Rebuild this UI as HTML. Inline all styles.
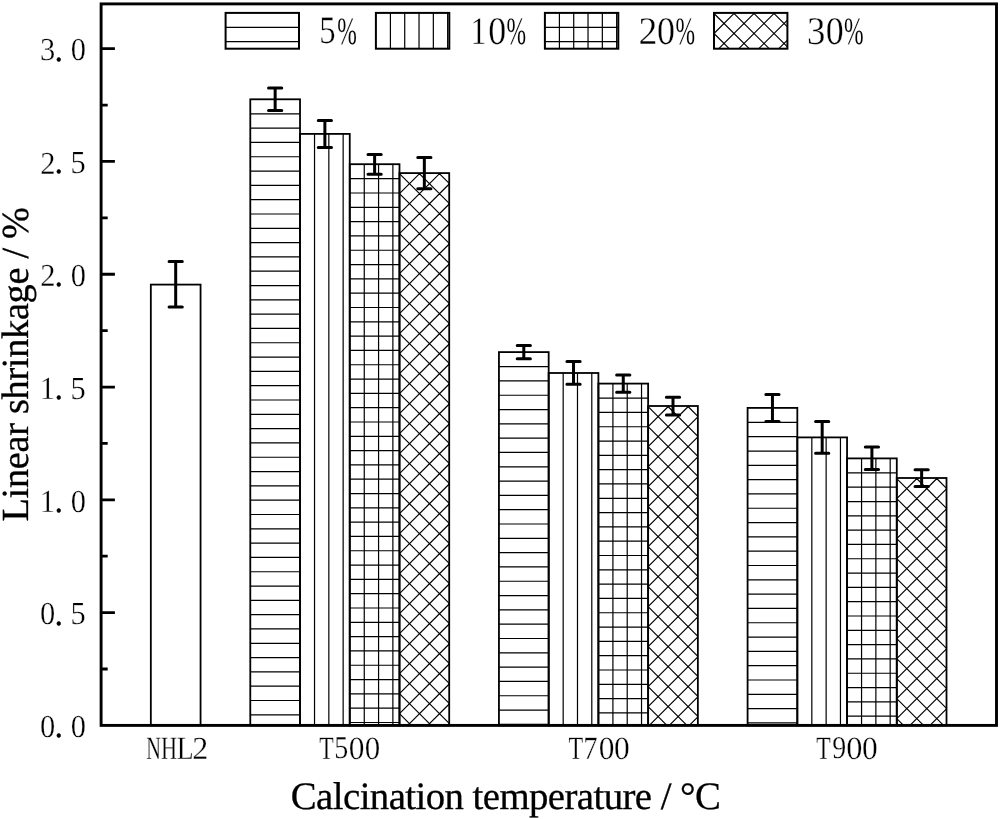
<!DOCTYPE html>
<html><head><meta charset="utf-8"><style>
html,body{margin:0;padding:0;background:#fff;}
body{width:1000px;height:819px;overflow:hidden;}
svg{display:block;}
text{text-rendering:geometricPrecision;}
svg{will-change:transform;}
</style></head><body>
<svg width="1000" height="819" viewBox="0 0 1000 819">
<rect width="1000" height="819" fill="#fff"/>
<rect x="150.83" y="284.60" width="49.73" height="440.80" fill="none" stroke="#000" stroke-width="1.8"/>
<path d="M250.29 113.81L300.02 113.81M250.29 128.12L300.02 128.12M250.29 142.43L300.02 142.43M250.29 156.74L300.02 156.74M250.29 171.05L300.02 171.05M250.29 185.36L300.02 185.36M250.29 199.67L300.02 199.67M250.29 213.98L300.02 213.98M250.29 228.29L300.02 228.29M250.29 242.60L300.02 242.60M250.29 256.91L300.02 256.91M250.29 271.22L300.02 271.22M250.29 285.53L300.02 285.53M250.29 299.84L300.02 299.84M250.29 314.15L300.02 314.15M250.29 328.46L300.02 328.46M250.29 342.77L300.02 342.77M250.29 357.08L300.02 357.08M250.29 371.39L300.02 371.39M250.29 385.70L300.02 385.70M250.29 400.01L300.02 400.01M250.29 414.32L300.02 414.32M250.29 428.63L300.02 428.63M250.29 442.94L300.02 442.94M250.29 457.25L300.02 457.25M250.29 471.56L300.02 471.56M250.29 485.87L300.02 485.87M250.29 500.18L300.02 500.18M250.29 514.49L300.02 514.49M250.29 528.80L300.02 528.80M250.29 543.11L300.02 543.11M250.29 557.42L300.02 557.42M250.29 571.73L300.02 571.73M250.29 586.04L300.02 586.04M250.29 600.35L300.02 600.35M250.29 614.66L300.02 614.66M250.29 628.97L300.02 628.97M250.29 643.28L300.02 643.28M250.29 657.59L300.02 657.59M250.29 671.90L300.02 671.90M250.29 686.21L300.02 686.21M250.29 700.52L300.02 700.52M250.29 714.83L300.02 714.83" stroke="#000" stroke-width="1.2" fill="none"/><rect x="250.29" y="99.30" width="49.73" height="626.10" fill="none" stroke="#000" stroke-width="1.8"/>
<path d="M314.53 133.90L314.53 725.40M328.84 133.90L328.84 725.40M343.15 133.90L343.15 725.40" stroke="#000" stroke-width="1.2" fill="none"/><rect x="300.02" y="133.90" width="49.73" height="591.50" fill="none" stroke="#000" stroke-width="1.8"/>
<path d="M349.75 178.71L399.48 178.71M349.75 193.02L399.48 193.02M349.75 207.33L399.48 207.33M349.75 221.64L399.48 221.64M349.75 235.95L399.48 235.95M349.75 250.26L399.48 250.26M349.75 264.57L399.48 264.57M349.75 278.88L399.48 278.88M349.75 293.19L399.48 293.19M349.75 307.50L399.48 307.50M349.75 321.81L399.48 321.81M349.75 336.12L399.48 336.12M349.75 350.43L399.48 350.43M349.75 364.74L399.48 364.74M349.75 379.05L399.48 379.05M349.75 393.36L399.48 393.36M349.75 407.67L399.48 407.67M349.75 421.98L399.48 421.98M349.75 436.29L399.48 436.29M349.75 450.60L399.48 450.60M349.75 464.91L399.48 464.91M349.75 479.22L399.48 479.22M349.75 493.53L399.48 493.53M349.75 507.84L399.48 507.84M349.75 522.15L399.48 522.15M349.75 536.46L399.48 536.46M349.75 550.77L399.48 550.77M349.75 565.08L399.48 565.08M349.75 579.39L399.48 579.39M349.75 593.70L399.48 593.70M349.75 608.01L399.48 608.01M349.75 622.32L399.48 622.32M349.75 636.63L399.48 636.63M349.75 650.94L399.48 650.94M349.75 665.25L399.48 665.25M349.75 679.56L399.48 679.56M349.75 693.87L399.48 693.87M349.75 708.18L399.48 708.18M349.75 722.49L399.48 722.49M364.26 164.20L364.26 725.40M378.57 164.20L378.57 725.40M392.88 164.20L392.88 725.40" stroke="#000" stroke-width="1.2" fill="none"/><rect x="349.75" y="164.20" width="49.73" height="561.20" fill="none" stroke="#000" stroke-width="1.8"/>
<path d="M399.48 713.70L411.18 725.40M399.48 693.70L431.18 725.40M399.48 673.70L449.21 723.43M399.48 653.70L449.21 703.43M399.48 633.70L449.21 683.43M399.48 613.70L449.21 663.43M399.48 593.70L449.21 643.43M399.48 573.70L449.21 623.43M399.48 553.70L449.21 603.43M399.48 533.70L449.21 583.43M399.48 513.70L449.21 563.43M399.48 493.70L449.21 543.43M399.48 473.70L449.21 523.43M399.48 453.70L449.21 503.43M399.48 433.70L449.21 483.43M399.48 413.70L449.21 463.43M399.48 393.70L449.21 443.43M399.48 373.70L449.21 423.43M399.48 353.70L449.21 403.43M399.48 333.70L449.21 383.43M399.48 313.70L449.21 363.43M399.48 293.70L449.21 343.43M399.48 273.70L449.21 323.43M399.48 253.70L449.21 303.43M399.48 233.70L449.21 283.43M399.48 213.70L449.21 263.43M399.48 193.70L449.21 243.43M399.48 173.70L449.21 223.43M418.88 173.10L449.21 203.43M438.88 173.10L449.21 183.43M400.08 173.10L399.48 173.70M420.08 173.10L399.48 193.70M440.08 173.10L399.48 213.70M449.21 183.97L399.48 233.70M449.21 203.97L399.48 253.70M449.21 223.97L399.48 273.70M449.21 243.97L399.48 293.70M449.21 263.97L399.48 313.70M449.21 283.97L399.48 333.70M449.21 303.97L399.48 353.70M449.21 323.97L399.48 373.70M449.21 343.97L399.48 393.70M449.21 363.97L399.48 413.70M449.21 383.97L399.48 433.70M449.21 403.97L399.48 453.70M449.21 423.97L399.48 473.70M449.21 443.97L399.48 493.70M449.21 463.97L399.48 513.70M449.21 483.97L399.48 533.70M449.21 503.97L399.48 553.70M449.21 523.97L399.48 573.70M449.21 543.97L399.48 593.70M449.21 563.97L399.48 613.70M449.21 583.97L399.48 633.70M449.21 603.97L399.48 653.70M449.21 623.97L399.48 673.70M449.21 643.97L399.48 693.70M449.21 663.97L399.48 713.70M449.21 683.97L407.78 725.40M449.21 703.97L427.78 725.40M449.21 723.97L447.78 725.40" stroke="#000" stroke-width="1.2" fill="none"/><rect x="399.48" y="173.10" width="49.73" height="552.30" fill="none" stroke="#000" stroke-width="1.8"/>
<path d="M498.94 366.61L548.67 366.61M498.94 380.92L548.67 380.92M498.94 395.23L548.67 395.23M498.94 409.54L548.67 409.54M498.94 423.85L548.67 423.85M498.94 438.16L548.67 438.16M498.94 452.47L548.67 452.47M498.94 466.78L548.67 466.78M498.94 481.09L548.67 481.09M498.94 495.40L548.67 495.40M498.94 509.71L548.67 509.71M498.94 524.02L548.67 524.02M498.94 538.33L548.67 538.33M498.94 552.64L548.67 552.64M498.94 566.95L548.67 566.95M498.94 581.26L548.67 581.26M498.94 595.57L548.67 595.57M498.94 609.88L548.67 609.88M498.94 624.19L548.67 624.19M498.94 638.50L548.67 638.50M498.94 652.81L548.67 652.81M498.94 667.12L548.67 667.12M498.94 681.43L548.67 681.43M498.94 695.74L548.67 695.74M498.94 710.05L548.67 710.05M498.94 724.36L548.67 724.36" stroke="#000" stroke-width="1.2" fill="none"/><rect x="498.94" y="352.10" width="49.73" height="373.30" fill="none" stroke="#000" stroke-width="1.8"/>
<path d="M563.18 373.00L563.18 725.40M577.49 373.00L577.49 725.40M591.80 373.00L591.80 725.40" stroke="#000" stroke-width="1.2" fill="none"/><rect x="548.67" y="373.00" width="49.73" height="352.40" fill="none" stroke="#000" stroke-width="1.8"/>
<path d="M598.40 398.11L648.13 398.11M598.40 412.42L648.13 412.42M598.40 426.73L648.13 426.73M598.40 441.04L648.13 441.04M598.40 455.35L648.13 455.35M598.40 469.66L648.13 469.66M598.40 483.97L648.13 483.97M598.40 498.28L648.13 498.28M598.40 512.59L648.13 512.59M598.40 526.90L648.13 526.90M598.40 541.21L648.13 541.21M598.40 555.52L648.13 555.52M598.40 569.83L648.13 569.83M598.40 584.14L648.13 584.14M598.40 598.45L648.13 598.45M598.40 612.76L648.13 612.76M598.40 627.07L648.13 627.07M598.40 641.38L648.13 641.38M598.40 655.69L648.13 655.69M598.40 670.00L648.13 670.00M598.40 684.31L648.13 684.31M598.40 698.62L648.13 698.62M598.40 712.93L648.13 712.93M612.91 383.60L612.91 725.40M627.22 383.60L627.22 725.40M641.53 383.60L641.53 725.40" stroke="#000" stroke-width="1.2" fill="none"/><rect x="598.40" y="383.60" width="49.73" height="341.80" fill="none" stroke="#000" stroke-width="1.8"/>
<path d="M648.13 706.60L666.93 725.40M648.13 686.60L686.93 725.40M648.13 666.60L697.86 716.33M648.13 646.60L697.86 696.33M648.13 626.60L697.86 676.33M648.13 606.60L697.86 656.33M648.13 586.60L697.86 636.33M648.13 566.60L697.86 616.33M648.13 546.60L697.86 596.33M648.13 526.60L697.86 576.33M648.13 506.60L697.86 556.33M648.13 486.60L697.86 536.33M648.13 466.60L697.86 516.33M648.13 446.60L697.86 496.33M648.13 426.60L697.86 476.33M648.13 406.60L697.86 456.33M667.53 406.00L697.86 436.33M687.53 406.00L697.86 416.33M648.73 406.00L648.13 406.60M668.73 406.00L648.13 426.60M688.73 406.00L648.13 446.60M697.86 416.87L648.13 466.60M697.86 436.87L648.13 486.60M697.86 456.87L648.13 506.60M697.86 476.87L648.13 526.60M697.86 496.87L648.13 546.60M697.86 516.87L648.13 566.60M697.86 536.87L648.13 586.60M697.86 556.87L648.13 606.60M697.86 576.87L648.13 626.60M697.86 596.87L648.13 646.60M697.86 616.87L648.13 666.60M697.86 636.87L648.13 686.60M697.86 656.87L648.13 706.60M697.86 676.87L649.33 725.40M697.86 696.87L669.33 725.40M697.86 716.87L689.33 725.40" stroke="#000" stroke-width="1.2" fill="none"/><rect x="648.13" y="406.00" width="49.73" height="319.40" fill="none" stroke="#000" stroke-width="1.8"/>
<path d="M747.59 422.41L797.32 422.41M747.59 436.72L797.32 436.72M747.59 451.03L797.32 451.03M747.59 465.34L797.32 465.34M747.59 479.65L797.32 479.65M747.59 493.96L797.32 493.96M747.59 508.27L797.32 508.27M747.59 522.58L797.32 522.58M747.59 536.89L797.32 536.89M747.59 551.20L797.32 551.20M747.59 565.51L797.32 565.51M747.59 579.82L797.32 579.82M747.59 594.13L797.32 594.13M747.59 608.44L797.32 608.44M747.59 622.75L797.32 622.75M747.59 637.06L797.32 637.06M747.59 651.37L797.32 651.37M747.59 665.68L797.32 665.68M747.59 679.99L797.32 679.99M747.59 694.30L797.32 694.30M747.59 708.61L797.32 708.61M747.59 722.92L797.32 722.92" stroke="#000" stroke-width="1.2" fill="none"/><rect x="747.59" y="407.90" width="49.73" height="317.50" fill="none" stroke="#000" stroke-width="1.8"/>
<path d="M811.83 437.40L811.83 725.40M826.14 437.40L826.14 725.40M840.45 437.40L840.45 725.40" stroke="#000" stroke-width="1.2" fill="none"/><rect x="797.32" y="437.40" width="49.73" height="288.00" fill="none" stroke="#000" stroke-width="1.8"/>
<path d="M847.05 472.91L896.78 472.91M847.05 487.22L896.78 487.22M847.05 501.53L896.78 501.53M847.05 515.84L896.78 515.84M847.05 530.15L896.78 530.15M847.05 544.46L896.78 544.46M847.05 558.77L896.78 558.77M847.05 573.08L896.78 573.08M847.05 587.39L896.78 587.39M847.05 601.70L896.78 601.70M847.05 616.01L896.78 616.01M847.05 630.32L896.78 630.32M847.05 644.63L896.78 644.63M847.05 658.94L896.78 658.94M847.05 673.25L896.78 673.25M847.05 687.56L896.78 687.56M847.05 701.87L896.78 701.87M847.05 716.18L896.78 716.18M861.56 458.40L861.56 725.40M875.87 458.40L875.87 725.40M890.18 458.40L890.18 725.40" stroke="#000" stroke-width="1.2" fill="none"/><rect x="847.05" y="458.40" width="49.73" height="267.00" fill="none" stroke="#000" stroke-width="1.8"/>
<path d="M896.78 718.60L903.58 725.40M896.78 698.60L923.58 725.40M896.78 678.60L943.58 725.40M896.78 658.60L946.51 708.33M896.78 638.60L946.51 688.33M896.78 618.60L946.51 668.33M896.78 598.60L946.51 648.33M896.78 578.60L946.51 628.33M896.78 558.60L946.51 608.33M896.78 538.60L946.51 588.33M896.78 518.60L946.51 568.33M896.78 498.60L946.51 548.33M896.78 478.60L946.51 528.33M916.18 478.00L946.51 508.33M936.18 478.00L946.51 488.33M897.38 478.00L896.78 478.60M917.38 478.00L896.78 498.60M937.38 478.00L896.78 518.60M946.51 488.87L896.78 538.60M946.51 508.87L896.78 558.60M946.51 528.87L896.78 578.60M946.51 548.87L896.78 598.60M946.51 568.87L896.78 618.60M946.51 588.87L896.78 638.60M946.51 608.87L896.78 658.60M946.51 628.87L896.78 678.60M946.51 648.87L896.78 698.60M946.51 668.87L896.78 718.60M946.51 688.87L909.98 725.40M946.51 708.87L929.98 725.40" stroke="#000" stroke-width="1.2" fill="none"/><rect x="896.78" y="478.00" width="49.73" height="247.40" fill="none" stroke="#000" stroke-width="1.8"/>
<path d="M175.69 261.60L175.69 306.90M169.09 261.60L182.29 261.60M169.09 306.90L182.29 306.90" stroke="#000" stroke-width="3.0" stroke-linecap="round" fill="none"/>
<path d="M275.15 88.00L275.15 110.60M268.55 88.00L281.75 88.00M268.55 110.60L281.75 110.60" stroke="#000" stroke-width="3.0" stroke-linecap="round" fill="none"/>
<path d="M324.88 120.40L324.88 147.40M318.28 120.40L331.49 120.40M318.28 147.40L331.49 147.40" stroke="#000" stroke-width="3.0" stroke-linecap="round" fill="none"/>
<path d="M374.62 154.60L374.62 174.20M368.01 154.60L381.22 154.60M368.01 174.20L381.22 174.20" stroke="#000" stroke-width="3.0" stroke-linecap="round" fill="none"/>
<path d="M424.34 157.50L424.34 188.80M417.74 157.50L430.94 157.50M417.74 188.80L430.94 188.80" stroke="#000" stroke-width="3.0" stroke-linecap="round" fill="none"/>
<path d="M523.80 345.40L523.80 358.80M517.20 345.40L530.40 345.40M517.20 358.80L530.40 358.80" stroke="#000" stroke-width="3.0" stroke-linecap="round" fill="none"/>
<path d="M573.53 361.60L573.53 384.20M566.93 361.60L580.13 361.60M566.93 384.20L580.13 384.20" stroke="#000" stroke-width="3.0" stroke-linecap="round" fill="none"/>
<path d="M623.26 375.00L623.26 392.20M616.66 375.00L629.87 375.00M616.66 392.20L629.87 392.20" stroke="#000" stroke-width="3.0" stroke-linecap="round" fill="none"/>
<path d="M673.00 397.20L673.00 415.00M666.39 397.20L679.60 397.20M666.39 415.00L679.60 415.00" stroke="#000" stroke-width="3.0" stroke-linecap="round" fill="none"/>
<path d="M772.45 394.40L772.45 421.40M765.85 394.40L779.05 394.40M765.85 421.40L779.05 421.40" stroke="#000" stroke-width="3.0" stroke-linecap="round" fill="none"/>
<path d="M822.18 421.40L822.18 453.20M815.58 421.40L828.78 421.40M815.58 453.20L828.78 453.20" stroke="#000" stroke-width="3.0" stroke-linecap="round" fill="none"/>
<path d="M871.91 447.00L871.91 469.60M865.31 447.00L878.51 447.00M865.31 469.60L878.51 469.60" stroke="#000" stroke-width="3.0" stroke-linecap="round" fill="none"/>
<path d="M921.64 469.80L921.64 486.40M915.04 469.80L928.25 469.80M915.04 486.40L928.25 486.40" stroke="#000" stroke-width="3.0" stroke-linecap="round" fill="none"/>
<path d="M101.10 669.00L107.70 669.00M101.10 612.61L114.90 612.61M101.10 556.21L107.70 556.21M101.10 499.82L114.90 499.82M101.10 443.42L107.70 443.42M101.10 387.03L114.90 387.03M101.10 330.63L107.70 330.63M101.10 274.24L114.90 274.24M101.10 217.84L107.70 217.84M101.10 161.45L114.90 161.45M101.10 105.05L107.70 105.05M101.10 48.66L114.90 48.66" stroke="#000" stroke-width="2.8" fill="none"/>
<rect x="101.10" y="3.90" width="895.40" height="721.50" fill="none" stroke="#000" stroke-width="2.9"/>
<g font-family="Liberation Serif" font-size="100" fill="#000" stroke="#fff" stroke-width="0.9"><text transform="matrix(0.30500 0 0 0.32100 40.12 737.18)">0</text><text transform="matrix(0.32025 0 0 0.33705 54.75 737.29)" stroke="#000" stroke-width="1.5">.</text><text transform="matrix(0.30500 0 0 0.32100 70.78 737.18)">0</text><text transform="matrix(0.30500 0 0 0.32100 40.12 624.39)">0</text><text transform="matrix(0.32025 0 0 0.33705 54.75 624.50)" stroke="#000" stroke-width="1.5">.</text><text transform="matrix(0.30500 0 0 0.32100 70.47 624.39)">5</text><text transform="matrix(0.30500 0 0 0.32100 39.67 511.92)">1</text><text transform="matrix(0.32025 0 0 0.33705 54.75 511.71)" stroke="#000" stroke-width="1.5">.</text><text transform="matrix(0.30500 0 0 0.32100 70.78 511.60)">0</text><text transform="matrix(0.30500 0 0 0.32100 39.67 399.13)">1</text><text transform="matrix(0.32025 0 0 0.33705 54.75 398.92)" stroke="#000" stroke-width="1.5">.</text><text transform="matrix(0.30500 0 0 0.32100 70.47 398.81)">5</text><text transform="matrix(0.30500 0 0 0.32100 40.28 286.34)">2</text><text transform="matrix(0.32025 0 0 0.33705 54.75 286.13)" stroke="#000" stroke-width="1.5">.</text><text transform="matrix(0.30500 0 0 0.32100 70.78 286.02)">0</text><text transform="matrix(0.30500 0 0 0.32100 40.28 173.55)">2</text><text transform="matrix(0.32025 0 0 0.33705 54.75 173.34)" stroke="#000" stroke-width="1.5">.</text><text transform="matrix(0.30500 0 0 0.32100 70.47 173.23)">5</text><text transform="matrix(0.30500 0 0 0.32100 39.97 60.44)">3</text><text transform="matrix(0.32025 0 0 0.33705 54.75 60.55)" stroke="#000" stroke-width="1.5">.</text><text transform="matrix(0.30500 0 0 0.32100 70.78 60.44)">0</text></g>
<g font-family="Liberation Serif" font-size="100" fill="#000" stroke="#fff" stroke-width="0.9"><text transform="matrix(0.20299 0 0 0.32519 146.19 758.80)">N</text><text transform="matrix(0.22256 0 0 0.32519 160.93 758.80)">H</text><text transform="matrix(0.27692 0 0 0.32519 176.77 758.80)">L</text><text transform="matrix(0.32000 0 0 0.32273 192.16 758.80)">2</text><text transform="matrix(0.23652 0 0 0.32519 319.13 758.80)">T</text><text transform="matrix(0.28000 0 0 0.32030 334.32 758.48)">5</text><text transform="matrix(0.31429 0 0 0.32444 348.74 758.78)">0</text><text transform="matrix(0.30952 0 0 0.32444 364.76 758.78)">0</text><text transform="matrix(0.24000 0 0 0.32519 568.52 758.80)">T</text><text transform="matrix(0.28642 0 0 0.32519 583.34 758.80)">7</text><text transform="matrix(0.31429 0 0 0.32444 598.74 758.78)">0</text><text transform="matrix(0.31429 0 0 0.32444 613.94 758.78)">0</text><text transform="matrix(0.23652 0 0 0.32519 816.33 758.80)">T</text><text transform="matrix(0.27907 0 0 0.31791 832.36 758.48)">9</text><text transform="matrix(0.32381 0 0 0.32444 846.30 758.78)">0</text><text transform="matrix(0.31429 0 0 0.32444 861.94 758.78)">0</text></g>
<text x="290.8" y="809.3" font-family="Liberation Serif" font-size="38.8" textLength="430.0" lengthAdjust="spacing" stroke="#000" stroke-width="0.3">Calcination temperature / °C</text>
<text transform="translate(28.3 521.5) rotate(-90)" font-family="Liberation Serif" font-size="38.3" textLength="314.5" lengthAdjust="spacing" stroke="#000" stroke-width="0.3">Linear shrinkage / %</text>
<path d="M225.60 27.41L299.00 27.41M225.60 41.72L299.00 41.72" stroke="#000" stroke-width="1.2" fill="none"/><rect x="225.60" y="12.90" width="73.40" height="35.80" fill="none" stroke="#000" stroke-width="2.0"/><path d="M390.41 12.90L390.41 48.70M404.72 12.90L404.72 48.70M419.03 12.90L419.03 48.70M433.34 12.90L433.34 48.70M447.65 12.90L447.65 48.70" stroke="#000" stroke-width="1.2" fill="none"/><rect x="375.90" y="12.90" width="73.40" height="35.80" fill="none" stroke="#000" stroke-width="2.0"/><path d="M544.90 27.41L618.30 27.41M544.90 41.72L618.30 41.72M559.41 12.90L559.41 48.70M573.72 12.90L573.72 48.70M588.03 12.90L588.03 48.70M602.34 12.90L602.34 48.70M616.65 12.90L616.65 48.70" stroke="#000" stroke-width="1.2" fill="none"/><rect x="544.90" y="12.90" width="73.40" height="35.80" fill="none" stroke="#000" stroke-width="2.0"/><path d="M714.00 33.50L729.20 48.70M714.00 13.50L749.20 48.70M733.40 12.90L769.20 48.70M753.40 12.90L787.40 46.90M773.40 12.90L787.40 26.90M714.60 12.90L714.00 13.50M734.60 12.90L714.00 33.50M754.60 12.90L718.80 48.70M774.60 12.90L738.80 48.70M787.40 20.10L758.80 48.70M787.40 40.10L778.80 48.70" stroke="#000" stroke-width="1.2" fill="none"/><rect x="714.00" y="12.90" width="73.40" height="35.80" fill="none" stroke="#000" stroke-width="2.0"/>
<g font-family="Liberation Serif" font-size="100" fill="#000" stroke="#fff" stroke-width="0.9"><text transform="matrix(0.32750 0 0 0.38797 319.33 43.41)">5</text><text transform="matrix(0.23529 0 0 0.38824 337.18 43.52)" stroke-width="0.3">%</text><text transform="matrix(0.31714 0 0 0.39091 470.45 43.80)">1</text><text transform="matrix(0.35952 0 0 0.39111 488.16 43.71)">0</text><text transform="matrix(0.23529 0 0 0.38824 506.48 43.52)" stroke-width="0.3">%</text><text transform="matrix(0.37750 0 0 0.39091 638.50 43.80)">2</text><text transform="matrix(0.35952 0 0 0.39111 657.06 43.71)">0</text><text transform="matrix(0.23529 0 0 0.38824 675.38 43.52)" stroke-width="0.3">%</text><text transform="matrix(0.36829 0 0 0.39403 807.06 43.71)">3</text><text transform="matrix(0.35952 0 0 0.39111 825.76 43.71)">0</text><text transform="matrix(0.23529 0 0 0.38824 844.08 43.52)" stroke-width="0.3">%</text></g>
</svg>
</body></html>
